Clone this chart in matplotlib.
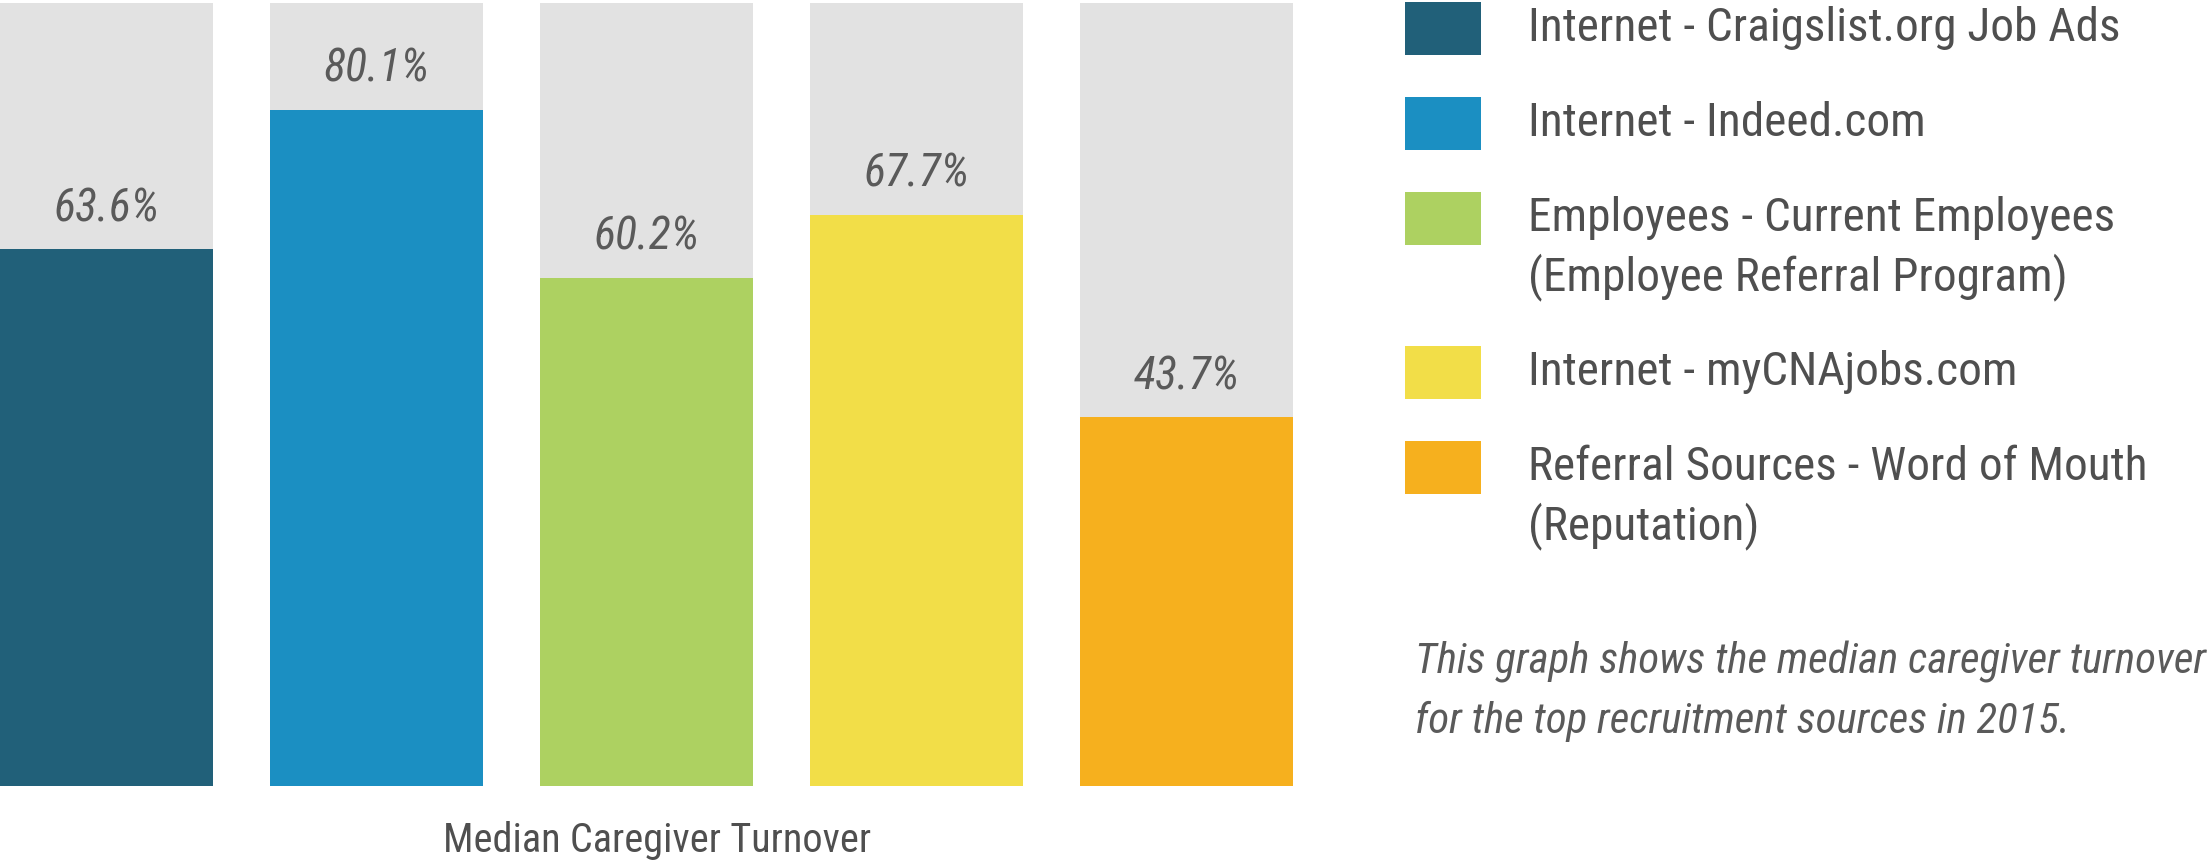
import matplotlib.pyplot as plt
from matplotlib import font_manager
from matplotlib.patches import Rectangle

sources = ["Internet - Craigslist.org Job Ads",
           "Internet - Indeed.com",
           "Employees - Current Employees\n(Employee Referral Program)",
           "Internet - myCNAjobs.com",
           "Referral Sources - Word of Mouth\n(Reputation)"]
turnover = [63.6, 80.1, 60.2, 67.7, 43.7]
colors = ["#216079", "#1b8fc2", "#add161", "#f2de48", "#f6b01e"]
value_labels = ["63.6%", "80.1%", "60.2%", "67.7%", "43.7%"]
caption = ["This graph shows the median caregiver turnover",
           "for the top recruitment sources in 2015."]
xlabel = "Median Caregiver Turnover"

installed = {f.name for f in font_manager.fontManager.ttflist}
family = "DejaVu Sans"
for name in ["Liberation Sans Narrow", "Roboto Condensed", "Open Sans Condensed", "Liberation Sans"]:
    if name in installed:
        family = name
        break
plt.rcParams["font.family"] = family

W, H = 2208, 860
fig = plt.figure(figsize=(W / 100, H / 100), dpi=100)
ax = fig.add_axes([0, 1 - 786 / H, 1293 / W, 783 / H])

ytop = 92.8
x = range(len(turnover))
ax.bar(x, [ytop] * len(turnover), width=0.79, color="#e2e2e2", linewidth=0)
bars = ax.bar(x, turnover, width=0.79, color=colors, linewidth=0)
for b, lab in zip(bars, value_labels):
    ax.annotate(lab, (b.get_x() + b.get_width() / 2, b.get_height()),
                xytext=(0, 29.5), textcoords="offset points", ha="center", va="center",
                fontsize=33, style="italic", color="#5a5a5a")

ax.set_xlim(-0.395, len(turnover) - 0.605)
ax.set_ylim(0, ytop)
ax.set_xticks([])
ax.set_yticks([])
for s in ax.spines.values():
    s.set_visible(False)
ax.set_xlabel(xlabel, fontsize=29, color="#4f4f4f")
ax.xaxis.set_label_coords(0.508, -54 / 783)
ax.xaxis.label.set_va("center")

# legend drawn by hand, entries stacked from the top
y = 28
for c, lab in zip(colors, sources):
    fig.add_artist(Rectangle((1405 / W, 1 - (y + 27) / H), 76 / W, 53 / H,
                             transform=fig.transFigure, color=c, linewidth=0))
    for k, line in enumerate(lab.split("\n")):
        fig.text(1528 / W, 1 - (y + 59 * k) / H, line, ha="left", va="center",
                 fontsize=34, color="#4f4f4f")
    y += 95 + 59 * lab.count("\n")

for k, line in enumerate(caption):
    fig.text(1415 / W, 1 - (662 + 59 * k) / H, line, ha="left", va="center",
             fontsize=31, style="italic", color="#5a5a5a")

fig.savefig("out.png", dpi=100)
